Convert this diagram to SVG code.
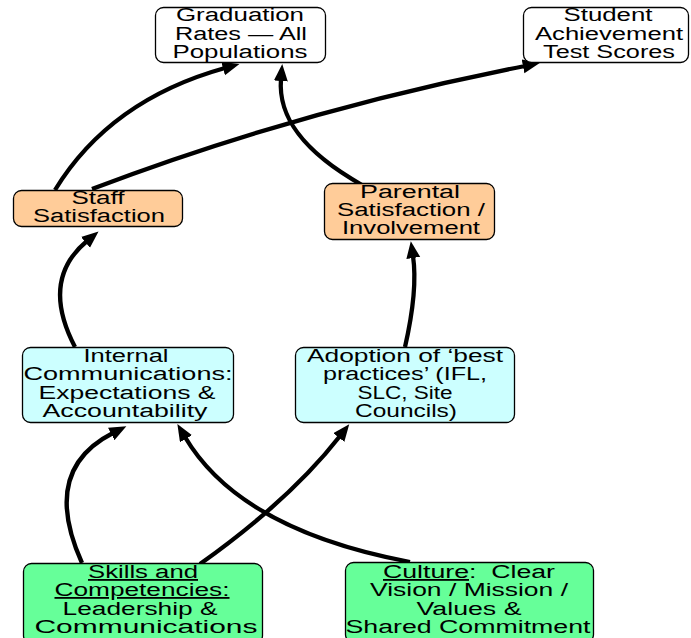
<svg xmlns="http://www.w3.org/2000/svg" width="691" height="638" viewBox="0 0 691 638">
<style>
.box{stroke:#000;stroke-width:1.3}
.w{fill:#ffffff}.o{fill:#ffcc99}.c{fill:#ccffff}.g{fill:#66ff99}
text{font-family:"Liberation Sans",Arial,sans-serif;font-size:18px;fill:#000;text-anchor:middle}
.con path{fill:none;stroke:#000;stroke-width:4.3;marker-end:url(#ah)}
.u{text-decoration:underline}
</style>
<defs>
<marker id="ah" markerUnits="userSpaceOnUse" markerWidth="22" markerHeight="18" refX="2" refY="7" orient="auto">
<path d="M0,0 L17,7 L0,14 z" fill="#000"/>
</marker>
</defs>
<rect width="691" height="638" fill="#fff"/>
<g class="con">
<path d="M55,190 Q110,100 225,68"/>
<path d="M362,185 C300,150 278,115 281,79"/>
<path d="M92,189 Q300,110 525,66"/>
<path d="M75,347 Q40,280 87,241"/>
<path d="M405,347 Q418,290 413,256"/>
<path d="M82,563 Q40,470 113,433"/>
<path d="M200,564 Q290,500 340,436"/>
<path d="M410,562 Q240,530 185,437"/>
</g>
<g id="graduation">
<rect class="box w" x="155.5" y="7.5" width="170" height="55" rx="8"/>
<text x="240" y="21" textLength="128" lengthAdjust="spacingAndGlyphs">Graduation</text>
<text x="241" y="40" textLength="132" lengthAdjust="spacingAndGlyphs">Rates — All</text>
<text x="240" y="58" textLength="135" lengthAdjust="spacingAndGlyphs">Populations</text>
</g>
<g id="student">
<rect class="box w" x="523.5" y="7.5" width="165" height="55" rx="8"/>
<text x="608" y="21" textLength="89" lengthAdjust="spacingAndGlyphs">Student</text>
<text x="609" y="40" textLength="148" lengthAdjust="spacingAndGlyphs">Achievement</text>
<text x="609" y="58" textLength="132" lengthAdjust="spacingAndGlyphs">Test Scores</text>
</g>
<g id="staff">
<rect class="box o" x="13.5" y="190.5" width="169" height="36" rx="8"/>
<text x="98" y="204" textLength="53" lengthAdjust="spacingAndGlyphs">Staff</text>
<text x="99" y="222" textLength="132" lengthAdjust="spacingAndGlyphs">Satisfaction</text>
</g>
<g id="parental">
<rect class="box o" x="324.5" y="183.5" width="170" height="56" rx="8"/>
<text x="410" y="198" textLength="100" lengthAdjust="spacingAndGlyphs">Parental</text>
<text x="411" y="216" textLength="148" lengthAdjust="spacingAndGlyphs">Satisfaction /</text>
<text x="411" y="234" textLength="138" lengthAdjust="spacingAndGlyphs">Involvement</text>
</g>
<g id="internal">
<rect class="box c" x="22.5" y="347.5" width="211" height="75" rx="8"/>
<text x="126" y="362" textLength="85" lengthAdjust="spacingAndGlyphs">Internal</text>
<text x="128" y="380" textLength="209" lengthAdjust="spacingAndGlyphs">Communications:</text>
<text x="127" y="399" textLength="177" lengthAdjust="spacingAndGlyphs">Expectations &amp;</text>
<text x="125" y="417" textLength="165" lengthAdjust="spacingAndGlyphs">Accountability</text>
</g>
<g id="adoption">
<rect class="box c" x="295.5" y="347.5" width="219" height="75" rx="8"/>
<text x="405" y="362" textLength="196" lengthAdjust="spacingAndGlyphs">Adoption of ‘best</text>
<text x="405" y="380" textLength="164" lengthAdjust="spacingAndGlyphs">practices’ (IFL,</text>
<text x="405" y="399" textLength="95" lengthAdjust="spacingAndGlyphs">SLC, Site</text>
<text x="406" y="417" textLength="102" lengthAdjust="spacingAndGlyphs">Councils)</text>
</g>
<g id="skills">
<rect class="box g" x="23.5" y="563.5" width="239" height="80" rx="8"/>
<text x="143" y="578" textLength="110" lengthAdjust="spacingAndGlyphs" class="u">Skills and</text>
<text x="142" y="596" textLength="175" lengthAdjust="spacingAndGlyphs" class="u">Competencies:</text>
<text x="140" y="615" textLength="155" lengthAdjust="spacingAndGlyphs">Leadership &amp;</text>
<text x="146" y="633" textLength="223" lengthAdjust="spacingAndGlyphs">Communications</text>
</g>
<g id="culture">
<rect class="box g" x="345.5" y="562.5" width="248" height="80" rx="8"/>
<text x="469" y="578" textLength="172" lengthAdjust="spacingAndGlyphs"><tspan class="u">Culture</tspan>:&#160; Clear</text>
<text x="469" y="596" textLength="198" lengthAdjust="spacingAndGlyphs">Vision / Mission /</text>
<text x="469" y="615" textLength="105" lengthAdjust="spacingAndGlyphs">Values &amp;</text>
<text x="468" y="633" textLength="245" lengthAdjust="spacingAndGlyphs">Shared Commitment</text>
</g>
</svg>
